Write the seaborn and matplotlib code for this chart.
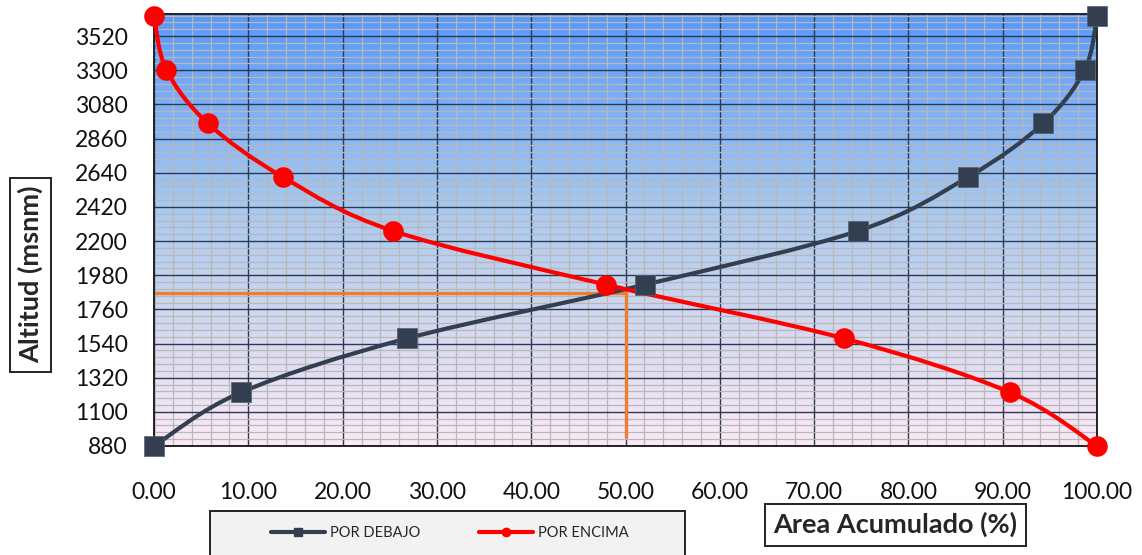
import numpy as np
import pandas as pd
import matplotlib
matplotlib.use("Agg")
import matplotlib.pyplot as plt
from matplotlib.path import Path
from matplotlib.patches import PathPatch, Rectangle
from matplotlib.lines import Line2D
from matplotlib.colors import LinearSegmentedColormap
from matplotlib.ticker import MultipleLocator, FormatStrFormatter
import seaborn as sns

# data
altitud = [880, 1226, 1573, 1919, 2265, 2611, 2958, 3304, 3650]
por_debajo = [0.0, 9.25, 26.85, 52.05, 74.65, 86.3, 94.3, 98.7, 100.0]
por_encima = [100.0, 90.75, 73.15, 47.95, 25.35, 13.7, 5.7, 1.3, 0.0]
mediana_area = 50.0
mediana_alt = 1865

sns.set_theme(style="white")
plt.rcParams['font.family'] = ['Lato', 'DejaVu Sans']

dark = '#333F50'
red = '#FF0000'
orange = '#ED7D31'


def smooth_path(xs, ys):
    # Catmull-Rom spline as cubic Bezier segments (like Excel smoothed lines)
    pts = np.column_stack([xs, ys]).astype(float)
    ext = np.vstack([pts[0], pts, pts[-1]])
    verts = [pts[0]]
    codes = [Path.MOVETO]
    for i in range(1, len(ext) - 2):
        p0, p1, p2, p3 = ext[i - 1], ext[i], ext[i + 1], ext[i + 2]
        c1 = p1 + (p2 - p0) / 6.0
        c2 = p2 - (p3 - p1) / 6.0
        verts += [c1, c2, p2]
        codes += [Path.CURVE4] * 3
    return Path(verts, codes)


fig = plt.figure(figsize=(11.42, 5.55), dpi=100)
ax = fig.add_axes([0.1349, 0.1964, 0.8257, 0.7784])

# gradient background
cmap = LinearSegmentedColormap.from_list(
    'bg', [(0.0, '#5898FA'), (0.45, '#A8C9F0'), (0.7, '#D0D7F0'), (1.0, '#FBE9F6')])
grad = np.linspace(0, 1, 256).reshape(-1, 1)
ax.imshow(grad, cmap=cmap, aspect='auto', extent=[0, 1, 0, 1],
          transform=ax.transAxes, zorder=0)

ax.set_xlim(0, 100)
ax.set_ylim(880, 3662)

ax.xaxis.set_major_locator(MultipleLocator(10))
ax.xaxis.set_minor_locator(MultipleLocator(2))
ax.yaxis.set_major_locator(MultipleLocator(220))
ax.yaxis.set_minor_locator(MultipleLocator(44))
ax.xaxis.set_major_formatter(FormatStrFormatter('%.2f'))
ax.grid(which='minor', color='#B8B8B8', linewidth=0.9, zorder=1)
ax.grid(which='major', color='#2E3A4C', linewidth=1.0, zorder=1.5)
ax.set_axisbelow(True)

# smoothed lines
ax.add_patch(PathPatch(smooth_path(por_debajo, altitud), fill=False,
                       edgecolor=dark, linewidth=3, zorder=3, clip_on=False))
ax.add_patch(PathPatch(smooth_path(por_encima, altitud), fill=False,
                       edgecolor=red, linewidth=3, zorder=4, clip_on=False))

df = pd.DataFrame({'altitud': altitud, 'debajo': por_debajo, 'encima': por_encima})
sns.scatterplot(data=df, x='debajo', y='altitud', marker='s', s=210, color=dark,
                edgecolor='#555F70', linewidth=0.5, ax=ax, zorder=5, clip_on=False)
sns.scatterplot(data=df, x='encima', y='altitud', marker='o', s=220, color=red,
                edgecolor=red, linewidth=0, ax=ax, zorder=6, clip_on=False)

# median guide lines
ax.plot([0, mediana_area], [mediana_alt, mediana_alt], color=orange, linewidth=2.4, zorder=2.5)
ax.plot([mediana_area, mediana_area], [mediana_alt, 935], color=orange, linewidth=2.4, zorder=2.5)

for s in ax.spines.values():
    s.set_visible(True)
    s.set_color('#222222')
    s.set_linewidth(1.4)

ax.set_xlabel('')
ax.set_ylabel('')
ax.tick_params(axis='both', labelsize=16.5, colors='#111111', length=0)
ax.tick_params(axis='x', pad=26)
ax.tick_params(axis='y', pad=19)

box = dict(boxstyle='square,pad=0.3', facecolor='white', edgecolor='#222222', linewidth=1.4)
fig.text(0.0267, 0.505, 'Altitud (msnm)', rotation=90, ha='center', va='center',
         fontsize=19.5, fontweight='bold', bbox=box)
fig.text(0.7842, 0.0545, 'Area Acumulado (%)', ha='center', va='center',
         fontsize=19.5, fontweight='bold', bbox=box)

# legend frame drawn by hand (reference box runs off the bottom edge)
fig.patches.append(Rectangle((210 / 1142, -0.05), 475 / 1142, 0.05 + 44 / 555,
                             transform=fig.transFigure, facecolor='#F2F2F2',
                             edgecolor='#222222', linewidth=1.4, zorder=0))
handles = [
    Line2D([0], [0], color=dark, linewidth=3, marker='s', markersize=6, label='POR DEBAJO'),
    Line2D([0], [0], color=red, linewidth=3, marker='o', markersize=6, label='POR ENCIMA'),
]
fig.legend(handles=handles, loc='center', bbox_to_anchor=(0.394, 0.039),
           ncol=2, fontsize=10.5, frameon=False, handlelength=3.7,
           columnspacing=4.0, handletextpad=0.35)

fig.savefig('out.png', dpi=100)
